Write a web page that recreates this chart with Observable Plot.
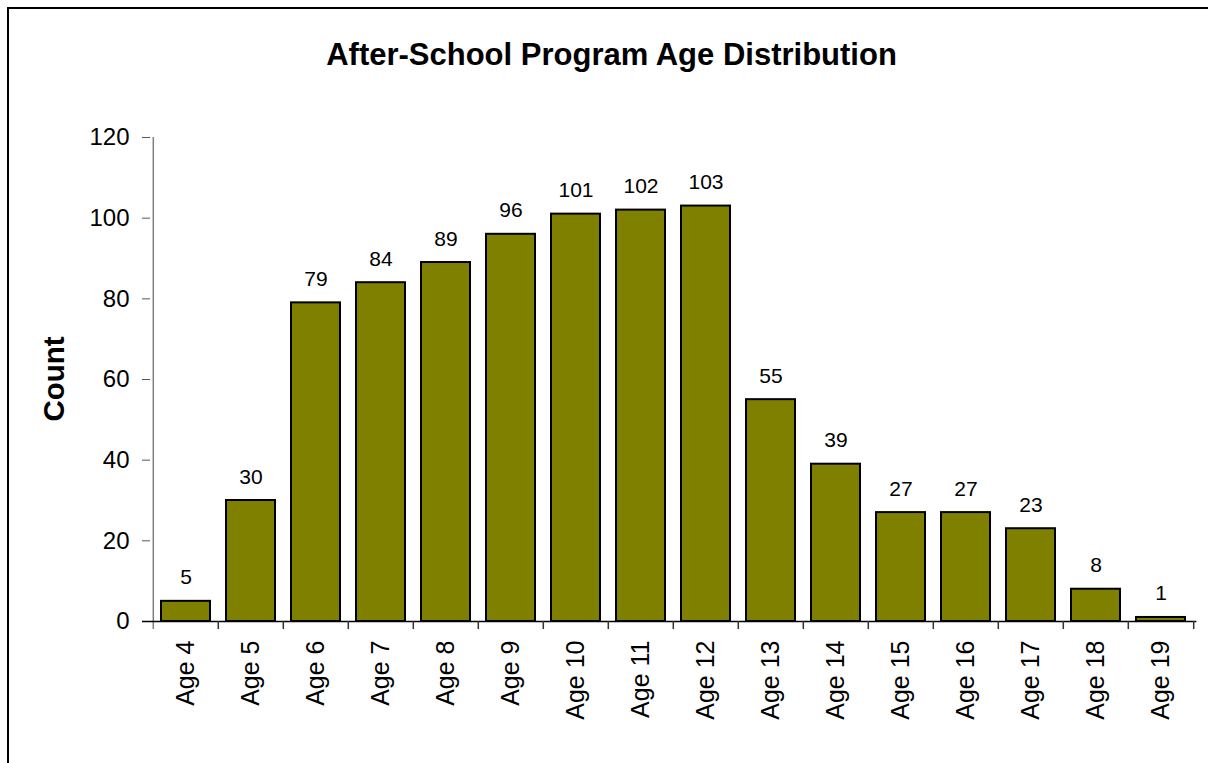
<!DOCTYPE html>
<html>
<head>
<meta charset="utf-8">
<script src="https://cdn.jsdelivr.net/npm/d3@7"></script>
<script src="https://cdn.jsdelivr.net/npm/@observablehq/plot@0.6"></script>
<style>
  html, body { margin: 0; padding: 0; background: #fff; overflow: hidden; }
  #wrap { position: relative; width: 1208px; height: 763px; overflow: hidden; font-family: "Liberation Sans", Arial, sans-serif; }
  #frame { position: absolute; left: 7px; top: 7px; width: 1400px; height: 1000px; border-left: 2px solid #000; border-top: 2px solid #000; box-sizing: border-box; }
  #title { position: absolute; left: 0; width: 1223px; top: 37px; text-align: center; font-size: 31px; font-weight: bold; color: #000; line-height: 36px; }
  #ylabel { position: absolute; left: 54px; top: 379px; transform: translate(-50%, -50%) rotate(-90deg); font-size: 29.5px; font-weight: bold; color: #000; white-space: nowrap; }
  #chart { position: absolute; left: 0; top: 100px; }
</style>
</head>
<body>
<div id="wrap">
  <div id="frame"></div>
  <div id="title">After-School Program Age Distribution</div>
  <div id="ylabel">Count</div>
  <div id="chart"></div>
</div>
<script>
const categories = ["Age 4","Age 5","Age 6","Age 7","Age 8","Age 9","Age 10","Age 11","Age 12","Age 13","Age 14","Age 15","Age 16","Age 17","Age 18","Age 19"];
const counts = [5, 30, 79, 84, 89, 96, 101, 102, 103, 55, 39, 27, 27, 23, 8, 1];
const yTicks = [0, 20, 40, 60, 80, 100, 120];

const data = categories.map((c, i) => ({age: c, count: counts[i]}));

const W = 1208, H = 663;
const mL = 150, mR = 11.6, mT = 37, mB = 142;
const step = (W - mL - mR) / categories.length;

const chart = Plot.plot({
  width: W,
  height: H,
  marginLeft: mL,
  marginRight: mR,
  marginTop: mT,
  marginBottom: mB,
  style: {fontFamily: "'Liberation Sans', Arial, sans-serif", color: "#000", background: "transparent", overflow: "visible"},
  x: {domain: categories, padding: 0, axis: null},
  y: {domain: [0, 120], axis: null},
  marks: [
    Plot.barY(data, {x: "age", y: "count", fill: "#808000", stroke: "#000", strokeWidth: 2, insetLeft: 8, insetRight: 8}),
    // y axis
    Plot.axisY({ticks: yTicks, tickSize: 8, tickPadding: 13, fontSize: 24, stroke: "#555", color: "#000", label: null, tickFormat: d => d}),
    // y axis line
    Plot.ruleX([categories[0]], {dx: -step / 2, y1: -2, y2: 120, stroke: "#808080", strokeWidth: 1.5}),
    // x axis line
    Plot.ruleY([0], {stroke: "#000", strokeWidth: 1.5, insetLeft: -8}),
    // boundary ticks
    Plot.ruleX(categories.slice(1), {dx: -step / 2, y1: 0, y2: -2, stroke: "#333", strokeWidth: 1.5}),
    Plot.ruleX([categories[categories.length - 1]], {dx: step / 2, y1: 0, y2: -2, stroke: "#333", strokeWidth: 1.5}),
    // x labels
    Plot.axisX({tickSize: 0, tickPadding: 19, tickRotate: -90, fontSize: 25, label: null}),
    // value labels
    Plot.text(data, {x: "age", y: "count", text: d => String(d.count), dy: -17, lineAnchor: "bottom", fontSize: 21, fill: "#000"})
  ]
});
document.getElementById("chart").appendChild(chart);
</script>
</body>
</html>
